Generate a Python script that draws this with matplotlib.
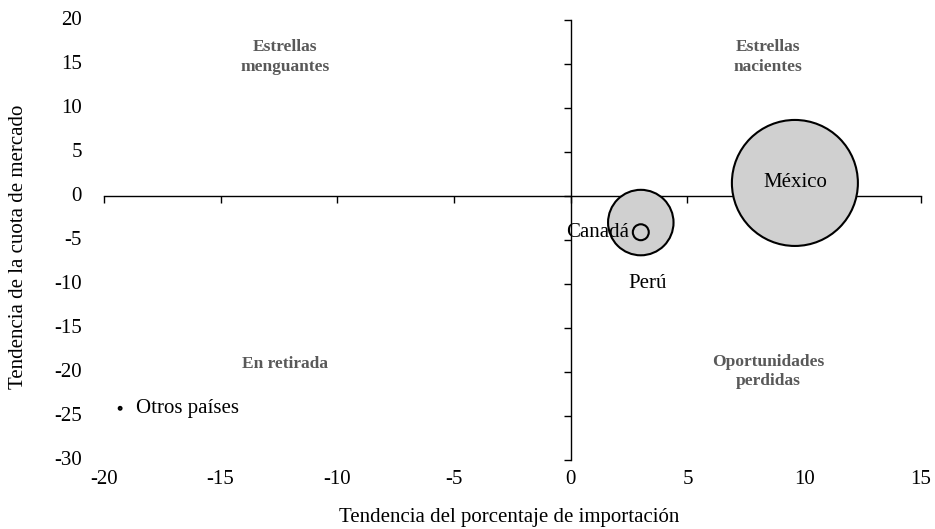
import matplotlib.pyplot as plt
import matplotlib.transforms as mtransforms
import numpy as np

plt.rcParams['font.family'] = ['Liberation Serif', 'DejaVu Serif']

# bubble data
paises = ['México', 'Perú', 'Canadá', 'Otros países']
x_imp = [9.6, 3.0, 3.0, -19.3]
y_cuota = [1.5, -3.0, -4.1, -24.1]
tamano = [100.0, 27.0, 1.6, 0.05]

xticks = [-20, -15, -10, -5, 0, 5, 10, 15]
yticks = [20, 15, 10, 5, 0, -5, -10, -15, -20, -25, -30]

cuadrantes = ['Estrellas\nmenguantes', 'Estrellas\nnacientes', 'En retirada', 'Oportunidades\nperdidas']
cuad_x = [-12.25, 8.45, -12.25, 8.45]
cuad_y = [15.8, 15.8, -19.1, -19.9]

fig = plt.figure(figsize=(9.35, 5.29), dpi=100)
ax = fig.add_axes([0.111, 0.130, 0.874, 0.832])
ax.set_xlim(-20, 15)
ax.set_ylim(-30, 20)

# bubbles: area proportional to value, largest ~63 px radius
max_d_pt = 2 * 63 * 0.72
s = [(max_d_pt * np.sqrt(v / max(tamano))) ** 2 for v in tamano]
ax.scatter(x_imp, y_cuota, s=s, c='#d0d0d0', edgecolors='black',
           linewidths=1.5, clip_on=False, zorder=3)

# axes crossing at zero
for sp in ['top', 'right']:
    ax.spines[sp].set_visible(False)
ax.spines['left'].set_position(('data', 0))
ax.spines['bottom'].set_position(('data', 0))
ax.spines['left'].set_linewidth(1.0)
ax.spines['bottom'].set_linewidth(1.0)
ax.set_xticks(xticks)
ax.set_yticks(yticks)
ax.tick_params(direction='out', length=5, width=1.0, labelleft=False, labelbottom=False)

# tick labels at the outer edges (Excel "low" position)
tr_y = mtransforms.blended_transform_factory(ax.transAxes, ax.transData)
for v in yticks:
    ax.text(-0.027, v, str(v), transform=tr_y, ha='right', va='center', fontsize=15)
tr_x = mtransforms.blended_transform_factory(ax.transData, ax.transAxes)
for v in xticks:
    ax.text(v, -0.022, str(v), transform=tr_x, ha='center', va='top', fontsize=15)

# bubble labels
ax.text(x_imp[0], y_cuota[0], paises[0], ha='center', va='center', fontsize=15, zorder=4)
ax.text(x_imp[1] + 0.3, -9.9, paises[1], ha='center', va='center', fontsize=15, zorder=4)
ax.text(x_imp[2] - 0.5, y_cuota[2], paises[2], ha='right', va='center', fontsize=15, zorder=4)
ax.text(x_imp[3] + 0.7, y_cuota[3], paises[3], ha='left', va='center', fontsize=15, zorder=4)

for t, cx, cy in zip(cuadrantes, cuad_x, cuad_y):
    ax.text(cx, cy, t, ha='center', va='center', fontsize=12.5, fontweight='bold',
            color='#595959', linespacing=1.3)

fig.text(0.545, 0.022, 'Tendencia del porcentaje de importación', ha='center', va='center', fontsize=15)
fig.text(0.02, 0.533, 'Tendencia de la cuota de mercado', ha='center', va='center',
         rotation=90, fontsize=15)

fig.savefig('out.png', dpi=100)
plt.close(fig)
